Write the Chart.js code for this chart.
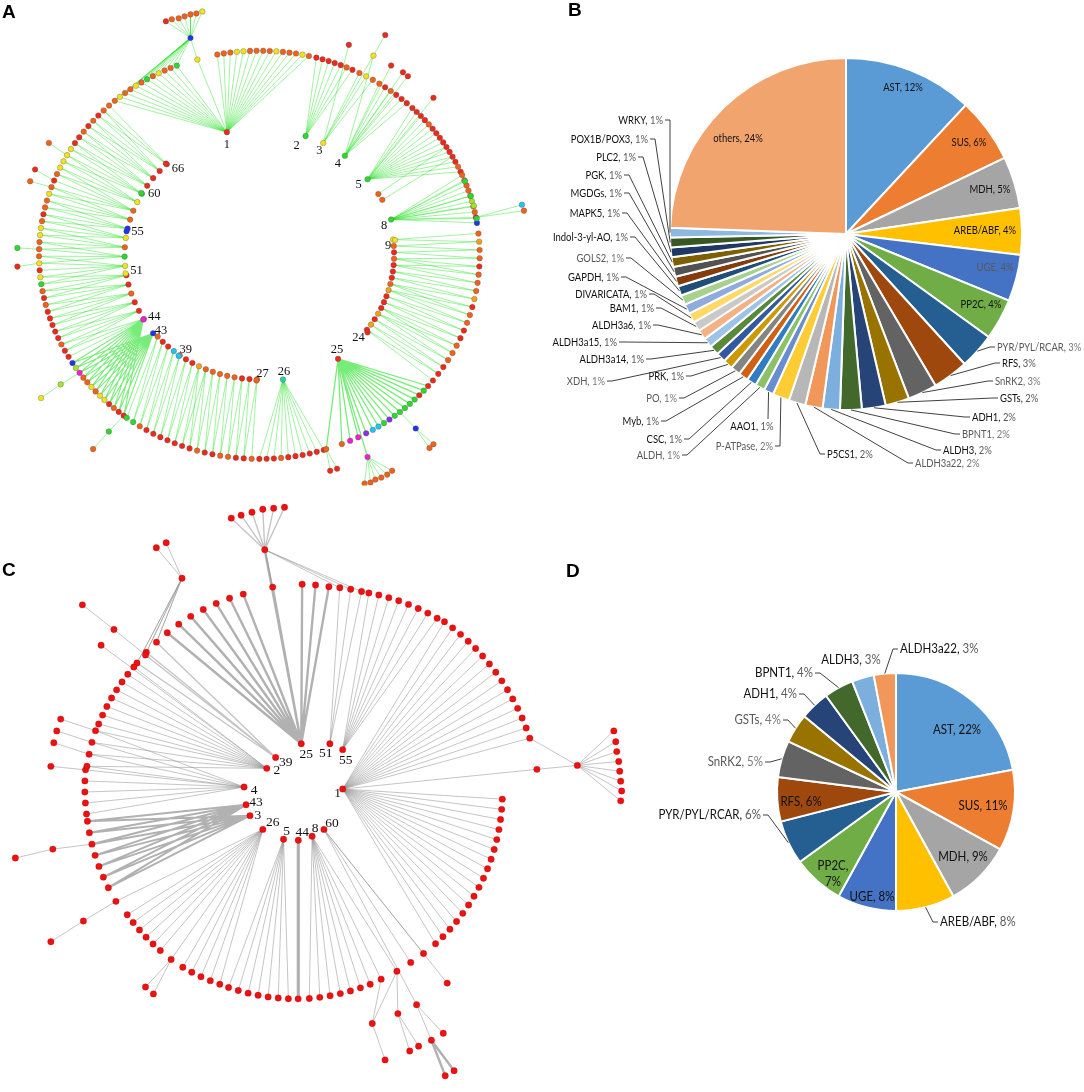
<!DOCTYPE html>
<html lang="en">
<head>
<meta charset="UTF-8">
<title>Co-expression networks and gene family shares</title>
<script src="https://cdn.jsdelivr.net/npm/chart.js@4.4.1/dist/chart.umd.min.js"></script>
<style>
  html, body { margin: 0; padding: 0; background: #fff; }
  #page { position: relative; width: 1084px; height: 1092px; overflow: hidden; background: #fff; }
  #page canvas { position: absolute; }
  .tag { position: absolute; font: bold 19px "Liberation Sans", Arial, sans-serif; color: #000; line-height: 22px; }
</style>
</head>
<body>
<div id="page">
  <canvas id="netA" width="560" height="490" style="left:0px;top:0px"></canvas>
  <canvas id="netC" width="640" height="602" style="left:0px;top:490px"></canvas>
  <canvas id="pieB" width="544" height="500" style="left:540px;top:0px"></canvas>
  <canvas id="pieD" width="444" height="400" style="left:640px;top:560px"></canvas>
  <div class="tag" style="left:2px;top:1px">A</div>
  <div class="tag" style="left:568px;top:-1px">B</div>
  <div class="tag" style="left:2px;top:559px">C</div>
  <div class="tag" style="left:566px;top:560px">D</div>
</div>

<script>
// ---------------- data: pie B (all families) ----------------
var genesB = ['AST', 'SUS', 'MDH', 'AREB/ABF', 'UGE', 'PP2C', 'PYR/PYL/RCAR', 'RFS', 'SnRK2', 'GSTs',
  'ADH1', 'BPNT1', 'ALDH3', 'ALDH3a22', 'P5CS1', 'P-ATPase', 'AAO1', 'ALDH', 'CSC', 'Myb', 'PO', 'PRK',
  'XDH', 'ALDH3a14', 'ALDH3a15', 'ALDH3a6', 'BAM1', 'DIVARICATA', 'GAPDH', 'GOLS2', 'Indol-3-yl-AO',
  'MAPK5', 'MGDGs', 'PGK', 'PLC2', 'POX1B/POX3', 'WRKY', 'others'];
var shareB = [12, 6, 4.8, 4.3, 4.3, 3.8, 3.3, 3.3, 2.7, 2.2,
  2.2, 2.0, 1.6, 1.6, 1.55, 1.55, 0.9, 0.9, 0.9, 0.9, 0.9, 0.9,
  0.9, 0.9, 0.9, 0.9, 0.9, 0.9, 0.9, 0.9, 0.9,
  0.9, 0.9, 0.9, 0.9, 0.9, 0.9, 24.6];

// ---------------- data: pie D (hub families) ----------------
var genesD = ['AST', 'SUS', 'MDH', 'AREB/ABF', 'UGE', 'PP2C', 'PYR/PYL/RCAR', 'RFS', 'SnRK2', 'GSTs',
  'ADH1', 'BPNT1', 'ALDH3', 'ALDH3a22'];
var shareD = [22, 11, 9, 8, 8, 7, 6, 6, 5, 4, 4, 4, 3, 3];

// ---------------- data: network A ----------------
var hubLabelsA = ['1', '2', '3', '4', '5', '8', '9', '24', '25', '26', '27', '39', '43', '44', '51', '55', '60', '66'];
var hubXA = [226, 306, 324, 346, 369, 393, 397, 369, 339, 283, 256, 177, 151, 141, 123, 124, 139, 164];
var hubYA = [130, 134, 141, 154, 178, 219, 240, 334, 361, 382, 383, 358, 335, 321, 274, 231, 192, 162];

// outer ring groups (degrees clockwise from top), node count, linked hub / inner arc
var ringFromA = [218, 240, 319, 349, 375, 387, 393, 404, 67, 84, 130, 151, 163, 182];
var ringToA = [238, 317, 338, 373, 385, 391, 402, 426, 81, 128, 149, 158, 180, 217];
var ringCountA = [13, 40, 12, 15, 7, 3, 6, 15, 10, 20, 12, 4, 10, 18];
var ringLinkA = ['43|44', 'L', '1', '1', '2', '3', '4', '5', '8', 'R', '25', '25', '26', 'B'];

// inner arcs
var arcNameA = ['L', 'R', 'B'];
var arcFromA = [239, 83, 181];
var arcToA = [316.6, 127, 229];
var arcCountA = [19, 16, 16];

// outlying nodes
var satXA = [189, 164, 170, 177, 183, 189, 195, 201, 196, 387, 350, 375, 393, 405, 410, 436, 468, 474, 477, 480,
  380, 384, 526, 528, 45, 31, 26, 13, 13, 57, 37, 106, 90, 418, 432, 436, 369, 366, 372, 377, 383, 389, 394,
  331, 327, 338];
var satYA = [34, 17, 15, 14, 12, 10, 9, 7, 56, 31, 41, 52, 62, 69, 73, 95, 180, 195, 205, 218,
  193, 199, 204, 210, 141, 168, 180, 248, 267, 387, 401, 435, 453, 432, 452, 448, 461, 488, 487, 484, 482, 479, 475,
  475, 453, 473];
var satLinkA = ['g2', 's0', 's0', 's0', 's0', 's0', 's0', 's0', '1|s0', '3', '3', '4', '4', '4', '4', '5', '8', '8', '8', '8',
  '', '', '', '', '', '', '', '', '', '', 's29', '', 's31', '', 's33', 's33', '25', 's36', 's36', 's36', 's36', 's36', 's36',
  's44', '25', 's44'];

// ---------------- data: network C ----------------
var hubLabelsC = ['25', '51', '55', '39', '2', '4', '43', '3', '26', '5', '44', '8', '60', '1'];
var hubXC = [301, 330, 343, 275, 266, 243, 245, 249, 262, 283, 298, 312, 324, 343];
var hubYC = [743, 743, 749, 757, 768, 787, 805, 816, 830, 840, 841, 837, 830, 789];

var ringFromC = [309, 321, 361.6, 372, 380, 41, 92, 159, 179.5, 182.2, 201.7, 220.6, 243, 264, 277, 289];
var ringToC = [317, 345, 369, 378, 399, 77, 137.5, 176.4, 179.5, 199.1, 212.9, 234, 262, 276, 287, 307.6];
var ringCountC = [3, 7, 3, 3, 8, 15, 17, 7, 1, 7, 5, 6, 7, 5, 4, 8];
var ringRad0C = [208, 208, 211, 212, 215, 229, 209, 209, 210, 210, 210, 212, 214, 214, 214, 212];
var ringRad1C = [208, 208, 211, 214, 227, 243, 209, 210, 210, 210, 212, 212, 214, 215, 213, 208];
var ringLinkC = ['39|s8', '25', '25', '51', '55', '1', '1', '8', '44', '5', '26', '26', '43|3', '4', '4|2', '2'];

var satXC = [264, 230, 240, 251, 262, 273, 284, 272, 180, 154, 164, 143, 111, 79, 98, 57, 53, 50, 47, 49,
  11, 113, 80, 47, 169, 143, 151, 382, 398, 373, 386, 399, 411, 420, 418, 433, 445, 456, 447, 449,
  412, 425, 581, 540, 618, 620, 621, 623, 624, 625, 626, 625];
var satYC = [546, 514, 511, 508, 505, 504, 503, 584, 575, 544, 539, 653, 627, 602, 643, 718, 730, 742, 766, 850,
  859, 903, 923, 944, 962, 990, 997, 982, 974, 1027, 1064, 1017, 1055, 1050, 1008, 1044, 1037, 1075, 1080, 986,
  965, 956, 765, 769, 730, 741, 751, 761, 771, 781, 791, 801];
var satLinkC = ['25|g3', 's0', 's0', 's0', 's0', 's0', 's0', '25|s0', 'g0', 's8', 's8', '39', 's11', 's12', '2',
  '', '', '', '', '', 's19', '26', 's21', 's22', '26', 's24', 's24', '8', '8', 's27|s28', 's29', 's28', 's31', 's31',
  '60', 's34', 's34', 's35', 's35', '60', '60', '60', '', 's42|1',
  's42', 's42', 's42', 's42', 's42', 's42', 's42', 's42'];

// ---------------- styles ----------------
var officeColors = ['#5B9BD5', '#ED7D31', '#A5A5A5', '#FFC000', '#4472C4', '#70AD47',
  '#255E91', '#9E480E', '#636363', '#997300', '#264478', '#43682B',
  '#7CAFDD', '#F1975A', '#B7B7B7', '#FFCD33', '#698ED0', '#8CC168',
  '#327DC2', '#D26012', '#848484', '#CC9A00', '#335AA1', '#5A8A39',
  '#9DC3E6', '#F4B183', '#C9C9C9', '#FFD966', '#8FAADC', '#A9D18E',
  '#1F4E79', '#843C0C', '#525252', '#7F6000', '#203864', '#385723',
  '#8CB9E2', '#F2A46F'];

// label placement relative to pie centre: [dx, dy, mode]
var placeB = [
  [57, -147, 'in'], [123, -92, 'in'], [144, -45, 'in'], [139, -4, 'in'], [149, 33, 'in'], [135, 70, 'in'],
  [151, 113, 'R'], [156, 129, 'R'], [149, 147, 'R'], [154, 164, 'R'], [126, 183, 'R'], [116, 200, 'R'],
  [97, 216, 'R'], [69, 229, 'R'], [-19, 220, 'R'], [-73, 212, 'L'], [-94, 192, 'U'],
  [-166, 221, 'L'], [-164, 205, 'L'], [-187, 187, 'L'], [-169, 164, 'L'], [-162, 142, 'L'], [-241, 147, 'L'],
  [-202, 125, 'L'], [-229, 108, 'L'], [-195, 91, 'L'], [-192, 74, 'L'], [-199, 60, 'L'], [-227, 43, 'L'],
  [-222, 24, 'L'], [-218, 3, 'L'], [-226, -21, 'L'], [-224, -41, 'L'], [-224, -59, 'L'], [-210, -77, 'L'],
  [-198, -95, 'L'], [-183, -114, 'L'], [-108, -96, 'in']
];
var toneB = 'ddddgdgdgd' + 'dgdgdgdgdd' + 'gdgddddddg' + 'dddddddd';
var placeD = [
  [61, -62, 'in'], [87, 14, 'in'], [67, 65, 'in'], [44, 130, 'R'], [-24, 105, 'in'], [-63, 82, 'in2'],
  [-135, 23, 'L'], [-95, 10, 'in'], [-133, -30, 'L'], [-115, -72, 'L'], [-99, -98, 'L'], [-83, -119, 'L'],
  [-45, -132, 'N'], [4, -143, 'R']
];
var toneD = 'ddddddddggdddd';

var colorsA = { r: '#EC2A1C', o: '#F0621C', a: '#F3A020', y: '#F0E21E', g: '#2ED82E', l: '#A6E22C',
  b: '#2233EE', c: '#22C4F0', m: '#F020D0', p: '#8C2CE6', t: '#22D79A' };
var ringTintA = ['rroryyoyoomlb', 'rrorrrrrorogyryoooyyorooyoroyyyyrrororoo', 'oyooyogoyoog', 'oooyyooooyoooyo',
  'rrrrror', 'oyo', 'ororrr', 'rrrrorrrrrrrror', 'ooooaloorb', 'oaooroooaroorrooorrr', 'rgrgggggpgcc', 'pmmo',
  'rrrrrrorrr', 'orroorrorrrrrrrogg'];
var arcTintA = ['mrrorrygoybooygrrrr', 'yororrroarrrarar', 'orroooooarrocrro'];
var hubTintA = 'rgygggyrrtocbmybgr';
var satTintA = 'broooooy' + 'yrryrrrr' + 'gglgooco' + 'orogrlyg' + 'oboomooo' + 'oooror';
var tagShiftA = [[0, 13], [-9, 10], [-4, 8], [-7, 8], [-9, 5], [-7, 6], [-7, 6], [-9, 5], [-1, -9], [1, -8],
  [6, -7], [7, -6], [8, -3], [11, -3], [11, -3], [11, 0], [13, 1], [12, 5]];
var tagShiftC = [[5, 11], [-4, 10], [3, 11], [10, 5], [10, 2], [10, 3], [10, -2], [8, 0], [10, -7], [3, -8],
  [4, -8], [3, -8], [8, -6], [-5, 4]];
var widthA = { '25': 1.3, '43': 1.1, '44': 1.1 };
var widthC = { '25': 2.4, '44': 3.2, '43': 2, '3': 2, 's35': 2.4, 's0': 1.4, '39': 1.4 };

// ---------------- pie label plugin ----------------
// Calibri-like narrow labels: draw Lato squeezed horizontally
var pieLabels = {
  id: 'pieLabels',
  afterDatasetsDraw: function (chart, args, opts) {
    var ctx = chart.ctx;
    var arcs = chart.getDatasetMeta(0).data;
    var vals = chart.data.datasets[0].data;
    var total = vals.reduce(function (a, b) { return a + b; }, 0);
    var sq = opts.squeeze;
    function put(text, x, y, color) {
      ctx.save();
      ctx.translate(x, y);
      ctx.scale(sq, 1);
      ctx.fillStyle = color;
      ctx.fillText(text, 0, 0);
      ctx.restore();
    }
    ctx.save();
    ctx.font = opts.font;
    ctx.textBaseline = 'middle';
    ctx.textAlign = 'left';
    arcs.forEach(function (arc, i) {
      var pl = opts.place[i];
      var x = arc.x + pl[0], y = arc.y + pl[1], mode = pl[2];
      var name = chart.data.labels[i] + ', ';
      var pct = Math.round(vals[i] / total * 100) + '%';
      var dark = opts.tone[i] === 'd';
      var cName = dark ? '#111111' : '#595959', cPct = dark ? '#595959' : '#7a7a7a';
      var wN = ctx.measureText(name).width * sq, wP = ctx.measureText(pct).width * sq;
      if (mode === 'L' || mode === 'R' || mode === 'U') {
        var mid = (arc.startAngle + arc.endAngle) / 2;
        var px = arc.x + Math.cos(mid) * arc.outerRadius;
        var py = arc.y + Math.sin(mid) * arc.outerRadius;
        ctx.beginPath();
        ctx.strokeStyle = '#2b2b2b';
        ctx.lineWidth = 0.9;
        if (mode === 'L') { ctx.moveTo(x + 2, y); ctx.lineTo(x + 7, y); }
        else if (mode === 'R') { ctx.moveTo(x - 2, y); ctx.lineTo(x - 7, y); }
        else { ctx.moveTo(x + 16, y - 7); }
        ctx.lineTo(px, py);
        ctx.stroke();
      }
      if (mode === 'in2') {
        var top = chart.data.labels[i] + ',';
        put(top, x - ctx.measureText(top).width * sq / 2, y - 8, cName);
        put(pct, x - wP / 2, y + 8, cName);
        return;
      }
      var left = mode === 'L' ? x - wN - wP : mode === 'R' ? x : x - (wN + wP) / 2;
      put(name, left, y, cName);
      put(pct, left + wN, y, mode === 'in' ? cName : cPct);
    });
    ctx.restore();
  }
};

function makePie(id, labels, values, place, tone, font, squeeze, pad) {
  return new Chart(document.getElementById(id), {
    type: 'pie',
    data: {
      labels: labels,
      datasets: [{ data: values, backgroundColor: officeColors.slice(0, values.length), borderColor: '#ffffff', borderWidth: 2 }]
    },
    options: {
      responsive: false, animation: false, events: [],
      layout: { padding: pad },
      plugins: {
        legend: { display: false }, tooltip: { enabled: false },
        pieLabels: { place: place, tone: tone, font: font, squeeze: squeeze }
      }
    },
    plugins: [pieLabels]
  });
}

// ---------------- network helpers ----------------
var hubTags = {
  id: 'hubTags',
  afterDatasetsDraw: function (chart, args, opts) {
    var ctx = chart.ctx, sx = chart.scales.x, sy = chart.scales.y;
    ctx.save();
    ctx.font = opts.font;
    ctx.fillStyle = '#111';
    ctx.textAlign = 'center';
    ctx.textBaseline = 'middle';
    opts.tags.forEach(function (t) {
      ctx.fillText(t.text, sx.getPixelForValue(t.x) + t.dx, sy.getPixelForValue(t.y) + t.dy);
    });
    ctx.restore();
  }
};

function onEllipse(cx, cy, rx, ry, deg) {
  var a = deg * Math.PI / 180;
  return { x: cx + rx * Math.sin(a), y: cy - ry * Math.cos(a) };
}

function buildNet(net) {
  var nodes = [], groups = [], arcs = {}, hubAt = {}, sats = [];
  var g = net.geo;
  net.ring.from.forEach(function (a0, k) {
    var n = net.ring.count[k], ids = [];
    for (var i = 0; i < n; i++) {
      var t = n === 1 ? 0 : i / (n - 1);
      var s = net.ring.rad0 ? net.ring.rad0[k] + (net.ring.rad1[k] - net.ring.rad0[k]) * t : 1;
      var p = onEllipse(g.cx, g.cy, g.rx * s, g.ry * s, a0 + (net.ring.to[k] - a0) * t);
      var tint = net.ring.tint[k];
      p.c = tint[i % tint.length];
      ids.push(nodes.push(p) - 1);
    }
    groups.push(ids);
  });
  var ringEnd = nodes.length;
  if (net.arcs) {
    net.arcs.name.forEach(function (nm, k) {
      var n = net.arcs.count[k], ids = [];
      for (var i = 0; i < n; i++) {
        var p = onEllipse(g.cx, g.cy, g.irx, g.iry, net.arcs.from[k] + (net.arcs.to[k] - net.arcs.from[k]) * i / (n - 1));
        p.c = net.arcs.tint[k][i % net.arcs.tint[k].length];
        ids.push(nodes.push(p) - 1);
      }
      arcs[nm] = ids;
    });
  }
  net.hubs.label.forEach(function (lb, k) {
    hubAt[lb] = nodes.push({ x: net.hubs.x[k], y: net.hubs.y[k], c: net.hubs.tint[k] }) - 1;
  });
  net.sats.x.forEach(function (x, k) {
    sats.push(nodes.push({ x: x, y: net.sats.y[k], c: net.sats.tint[k] }) - 1);
  });

  var edges = {};
  function link(i, j, tok) {
    var w = (net.widths && net.widths[tok]) || net.baseWidth;
    if (!edges[w]) edges[w] = [];
    edges[w].push({ x: nodes[i].x, y: nodes[i].y }, { x: nodes[j].x, y: nodes[j].y }, { x: null, y: null });
  }
  function targets(tok) {
    if (hubAt[tok] !== undefined) return [hubAt[tok]];
    if (tok[0] === 's') return [sats[+tok.slice(1)]];
    if (tok[0] === 'g') return groups[+tok.slice(1)];
    return [];
  }
  groups.forEach(function (ids, k) {
    net.ring.link[k].split('|').forEach(function (tok) {
      if (arcs[tok]) {
        var inner = arcs[tok];
        ids.forEach(function (id, i) {
          var f = ids.length === 1 ? 0 : i * (inner.length - 1) / (ids.length - 1);
          link(id, inner[Math.floor(f)], tok);
          if (Math.ceil(f) !== Math.floor(f)) link(id, inner[Math.ceil(f)], tok);
        });
      } else {
        targets(tok).forEach(function (t) { ids.forEach(function (id) { link(id, t, tok); }); });
      }
    });
  });
  net.sats.link.forEach(function (lk, k) {
    var id = sats[k];
    if (!lk) {
      var best = 0, bd = Infinity;
      for (var i = 0; i < ringEnd; i++) {
        var d = Math.hypot(nodes[i].x - nodes[id].x, nodes[i].y - nodes[id].y);
        if (d < bd) { bd = d; best = i; }
      }
      link(id, best, '');
    } else {
      lk.split('|').forEach(function (tok) { targets(tok).forEach(function (t) { link(id, t, tok); }); });
    }
  });
  return { nodes: nodes, edges: edges };
}

function makeNet(id, net, look) {
  var built = buildNet(net);
  var datasets = [{
    data: built.nodes.map(function (n) { return { x: n.x, y: n.y }; }),
    pointRadius: look.nodeR,
    pointBackgroundColor: built.nodes.map(function (n) { return look.colors[n.c] || look.colors.r; }),
    pointBorderColor: look.nodeLine,
    pointBorderWidth: look.nodeLineW,
    order: 0
  }];
  Object.keys(built.edges).forEach(function (w) {
    datasets.push({
      data: built.edges[w], showLine: true, pointRadius: 0,
      borderColor: look.edge(+w), borderWidth: +w, order: 1
    });
  });
  var tags = net.hubs.label.map(function (lb, k) {
    return { text: lb, x: net.hubs.x[k], y: net.hubs.y[k], dx: look.tagShift[k][0], dy: look.tagShift[k][1] };
  });
  return new Chart(document.getElementById(id), {
    type: 'scatter',
    data: { datasets: datasets },
    options: {
      responsive: false, animation: false, events: [],
      layout: { padding: 0 },
      scales: {
        x: { type: 'linear', min: look.x0, max: look.x1, display: false },
        y: { type: 'linear', min: look.y0, max: look.y1, reverse: true, display: false }
      },
      plugins: { legend: { display: false }, tooltip: { enabled: false }, hubTags: { tags: tags, font: look.tagFont } }
    },
    plugins: [hubTags]
  });
}

// ---------------- build ----------------
makeNet('netA', {
  geo: { cx: 259, cy: 255, rx: 224, ry: 208, irx: 137, iry: 127 },
  ring: { from: ringFromA, to: ringToA, count: ringCountA, link: ringLinkA, tint: ringTintA },
  arcs: { name: arcNameA, from: arcFromA, to: arcToA, count: arcCountA, tint: arcTintA },
  hubs: { label: hubLabelsA, x: hubXA, y: hubYA, tint: hubTintA },
  sats: { x: satXA, y: satYA, link: satLinkA, tint: satTintA },
  widths: widthA, baseWidth: 0.8
}, {
  x0: 0, x1: 560, y0: 0, y1: 490,
  nodeR: 2.8, nodeLine: 'rgba(80,80,80,0.55)', nodeLineW: 0.6,
  colors: colorsA,
  edge: function (w) { return w > 1 ? 'rgba(30,224,30,0.6)' : 'rgba(40,226,40,0.55)'; },
  tagShift: tagShiftA, tagFont: '12.5px "Liberation Serif", "DejaVu Serif", serif'
});

makeNet('netC', {
  geo: { cx: 296, cy: 792, rx: 1, ry: 1 },
  ring: { from: ringFromC, to: ringToC, count: ringCountC, rad0: ringRad0C, rad1: ringRad1C, link: ringLinkC,
    tint: ringFromC.map(function () { return 'r'; }) },
  hubs: { label: hubLabelsC, x: hubXC, y: hubYC, tint: hubLabelsC.map(function () { return 'r'; }) },
  sats: { x: satXC, y: satYC, link: satLinkC, tint: satXC.map(function () { return 'r'; }) },
  widths: widthC, baseWidth: 1
}, {
  x0: 0, x1: 640, y0: 490, y1: 1092,
  nodeR: 3.2, nodeLine: 'rgba(170,0,0,0.6)', nodeLineW: 0.5,
  colors: { r: '#EE1111' },
  edge: function (w) { return w >= 2 ? 'rgba(125,125,125,0.6)' : 'rgba(150,150,150,0.55)'; },
  tagShift: tagShiftC, tagFont: '13.5px "Liberation Serif", "DejaVu Serif", serif'
});

makePie('pieB', genesB, shareB, placeB, toneB, '11px Lato, "Liberation Sans", sans-serif', 0.86,
  { left: 129, right: 61, top: 57, bottom: 89 });
makePie('pieD', genesD, shareD, placeD, toneD, '12.5px Lato, "Liberation Sans", sans-serif', 0.92,
  { left: 136, right: 68, top: 112, bottom: 48 });
</script>
</body>
</html>
